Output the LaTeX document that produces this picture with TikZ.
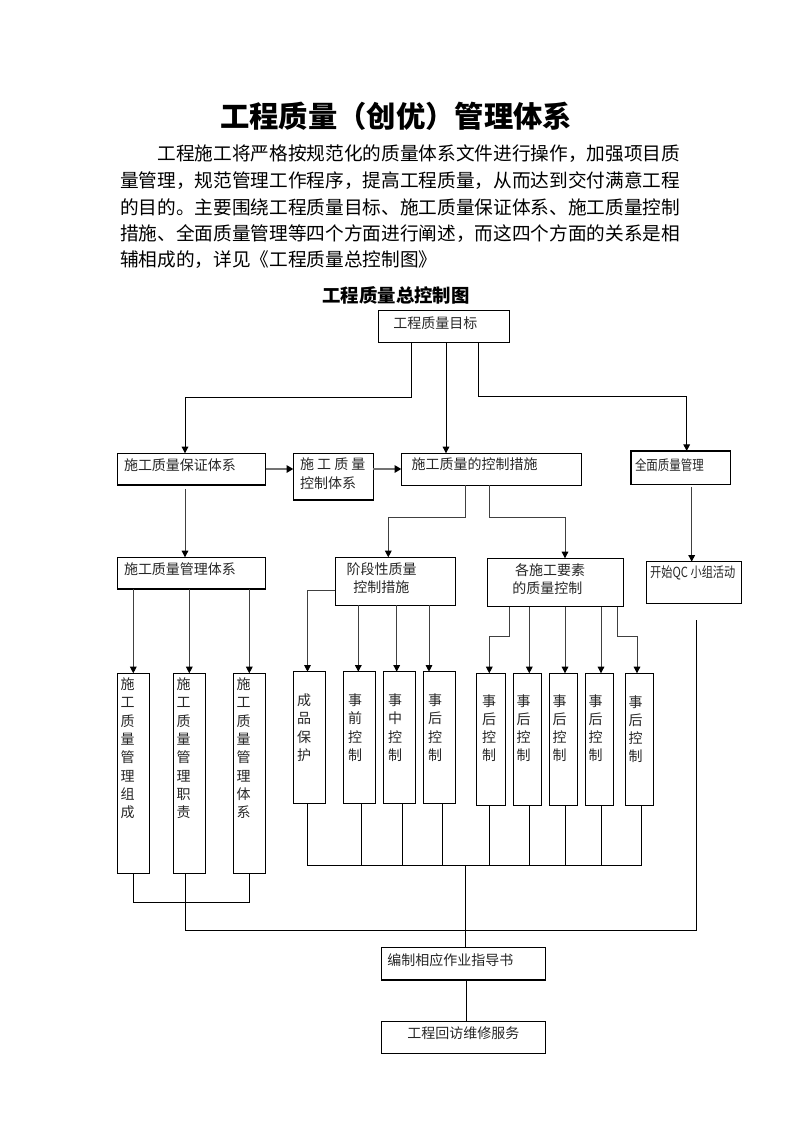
\documentclass[tikz,border=0pt]{standalone}
\usepackage{fontspec}
\usepackage{graphicx}
\newfontfamily\zh{Noto Sans CJK SC}
\usetikzlibrary{arrows.meta}
\newlength\px \setlength\px{0.75pt}
\newcommand\bt[5]{\parbox[c][#2\px][t]{#1\px}{\raggedright\leftskip=#4\px\relax\parindent=0pt\vspace*{#3\px}#5\par}}
\newcommand\boxf{\zh\fontsize{10.5pt}{13.73pt}\selectfont}
\tikzset{
  box/.style={draw, line width=0.9pt, inner sep=0pt, outer sep=0pt, anchor=north west, font=\boxf, text=black!85},
  para/.style={anchor=west, inner sep=0pt, font=\zh\fontsize{14pt}{17pt}\selectfont},
  ln/.style={line width=0.75pt},
  arr/.style={line width=0.75pt, draw=black!75, -{Triangle[length=5pt,width=5pt,color=black]}},
  garr/.style={line width=1.3pt, draw=black!55, -{Triangle[length=5pt,width=5.5pt,color=black]}}
}
\begin{document}
\begin{tikzpicture}[x=0.75pt,y=-0.75pt]
\path[use as bounding box] (0,0) rectangle (793,1122);

% title and text
\node[inner sep=0pt, font=\zh\bfseries\fontsize{22pt}{26pt}\selectfont] (title) at (396,116) {工程质量（创优）管理体系};
\node[para] (p1) at (157.3,154) {工程施工将严格按规范化的质量体系文件进行操作，加强项目质};
\node[para] (p2) at (120,180.5) {量管理，规范管理工作程序，提高工程质量，从而达到交付满意工程};
\node[para] (p3) at (120,207) {的目的。主要围绕工程质量目标、施工质量保证体系、施工质量控制};
\node[para] (p4) at (120,233.5) {措施、全面质量管理等四个方面进行阐述，而这四个方面的关系是相};
\node[para] (p5) at (120,260) {辅相成的，详见《工程质量总控制图》};
\node[inner sep=0pt, font=\zh\bfseries\fontsize{13.8pt}{16pt}\selectfont] (sub) at (396,295) {工程质量总控制图};

% boxes
\node[box] (goal) at (378.3,310.7) {\bt{131}{31.6}{6}{15}{工程质量目标}};
\node[box] (psys) at (117.3,453.3) {\bt{148.4}{31.7}{5.4}{6.7}{施工质量保证体系}};
\node[box] (qcs) at (293.3,453.3) {\bt{80}{46.7}{4.7}{6.7}{施 工 质 量\\控制体系}};
\node[box] (ctrl) at (401.3,453.3) {\bt{180.4}{32}{4.7}{10.4}{施工质量的控制措施}};
\node[box] (tqm) at (631,451) {\bt{99.7}{33.3}{7.7}{4}{\scalebox{0.82}[1]{全面质量管理}}};
\node[box] (mgmt) at (117.3,557.3) {\bt{148.4}{31.7}{5.4}{6.7}{施工质量管理体系}};
\node[box] (stage) at (335.3,557.3) {\bt{120.4}{48}{5.4}{11.4}{阶段性质量\\\hspace*{6.6\px}控制措施}};
\node[box] (elem) at (487.3,558.3) {\bt{136}{48.4}{5.4}{25}{\hspace*{2.7\px}各施工要素\\的质量控制}};
\node[box] (qc) at (646.7,561.7) {\bt{94.5}{41.6}{3.7}{3.5}{\scalebox{0.8}[1]{开始QC 小组活动}}};

\node[box] (v1) at (117.3,673.3) {\bt{32}{200}{4.4}{3.3}{施\\工\\质\\量\\管\\理\\组\\成}};
\node[box] (v2) at (173.3,673.3) {\bt{32}{200}{4.4}{3.3}{施\\工\\质\\量\\管\\理\\职\\责}};
\node[box] (v3) at (233.3,673.3) {\bt{32}{200}{4.4}{3.3}{施\\工\\质\\量\\管\\理\\体\\系}};

\node[box] (cp) at (293.3,671.7) {\bt{32.4}{131.6}{22}{3.7}{成\\品\\保\\护}};
\node[box] (sq) at (343.3,671.7) {\bt{32.4}{131.6}{22}{4.7}{事\\前\\控\\制}};
\node[box] (sz) at (383.3,671.7) {\bt{32.4}{131.6}{22}{4.7}{事\\中\\控\\制}};
\node[box] (sh) at (423.3,671.7) {\bt{32.4}{131.6}{22}{4.7}{事\\后\\控\\制}};

\node[box] (r1) at (476.3,673.3) {\bt{29.4}{132}{21}{5.7}{事\\后\\控\\制}};
\node[box] (r2) at (513.3,673.3) {\bt{28.4}{132}{21}{3.4}{事\\后\\控\\制}};
\node[box] (r3) at (549.3,673.3) {\bt{28.4}{132}{21}{3.4}{事\\后\\控\\制}};
\node[box] (r4) at (585.3,673.3) {\bt{28.4}{132}{21}{3.4}{事\\后\\控\\制}};
\node[box] (r5) at (625.3,673.3) {\bt{28.4}{132}{22}{3.4}{事\\后\\控\\制}};

\node[box] (bz) at (381.7,947.3) {\bt{163.6}{32.7}{6.4}{5.7}{编制相应作业指导书}};
\node[box] (hf) at (381.7,1021.7) {\bt{163.6}{31.6}{5.3}{25.6}{工程回访维修服务}};

% connectors from goal
\draw[arr, draw=black] (goal.south -| 411.7,0) -- (411.7,397.3) -| (psys.north -| 185,0);
\draw[arr, draw=black] (goal.south -| 446,0) -- (ctrl.north -| 446,0);
\draw[arr, draw=black] (goal.south -| 478.3,0) -- (478.3,396.7) -| (tqm.north -| 686.7,0);

% row 2
\draw[garr] (psys.east |- 0,469) -- (qcs.west |- 0,469);
\draw[garr] (qcs.east |- 0,469) -- (ctrl.west |- 0,469);
\draw[arr, shorten <=3pt] (psys.south -| 185,0) -- (mgmt.north -| 185,0);
\draw[arr] (ctrl.south -| 465.7,0) -- (465.7,517.3) -| (stage.north -| 388.3,0);
\draw[arr] (ctrl.south -| 489.3,0) -- (489.3,517.3) -| (elem.north -| 565,0);
\draw[arr, shorten <=2pt] (tqm.south -| 691.7,0) -- (qc.north -| 691.7,0);

% row 3 to row 4
\draw[arr] (mgmt.south -| v1.north) -- (v1.north);
\draw[arr] (mgmt.south -| v2.north) -- (v2.north);
\draw[arr] (mgmt.south -| v3.north) -- (v3.north);

\draw[arr] (stage.west |- 0,590.3) -- (307.5,590.3) -- (cp.north -| 307.5,0);
\draw[arr] (stage.south -| 358.3,0) -- (sq.north -| 358.3,0);
\draw[arr] (stage.south -| 396.7,0) -- (sz.north -| 396.7,0);
\draw[arr] (stage.south -| 429,0) -- (sh.north -| 429,0);

\draw[arr] (elem.south -| 509.3,0) -- (509.3,636.7) -| (r1.north -| 489.3,0);
\draw[arr] (elem.south -| 529.3,0) -- (r2.north -| 529.3,0);
\draw[arr] (elem.south -| 565,0) -- (r3.north -| 565,0);
\draw[arr] (elem.south -| 601,0) -- (r4.north -| 601,0);
\draw[arr] (elem.south -| 617.7,0) -- (617.7,636.7) -| (r5.north -| 637,0);

% bottom collection
\draw[ln] (v1.south -| 133.3,0) -- (133.3,902.3) -- (249.3,902.3) -- (v3.south -| 249.3,0);
\draw[ln, shorten >=12.5pt] (v2.south -| 185.7,0) |- (696,930) -- (qc.south -| 696,0);

\coordinate (bus) at (465.3,865.3);
\draw[ln] (cp.south -| 307.3,0) -- (307.3,865.3) -- (641.3,865.3) -- (r5.south -| 641.3,0);
\draw[ln] (sq.south -| 361.7,0) -- (361.7,865.3);
\draw[ln] (sz.south -| 402.3,0) -- (402.3,865.3);
\draw[ln] (sh.south -| 442.3,0) -- (442.3,865.3);
\draw[ln] (r1.south -| 489.3,0) -- (489.3,865.3);
\draw[ln] (r2.south -| 529.3,0) -- (529.3,865.3);
\draw[ln] (r3.south -| 565.3,0) -- (565.3,865.3);
\draw[ln] (r4.south -| 601.7,0) -- (601.7,865.3);
\draw[ln] (bus) -- (bz.north -| bus);
\draw[ln] (bz.south -| 466.7,0) -- (hf.north -| 466.7,0);
\end{tikzpicture}
\end{document}
